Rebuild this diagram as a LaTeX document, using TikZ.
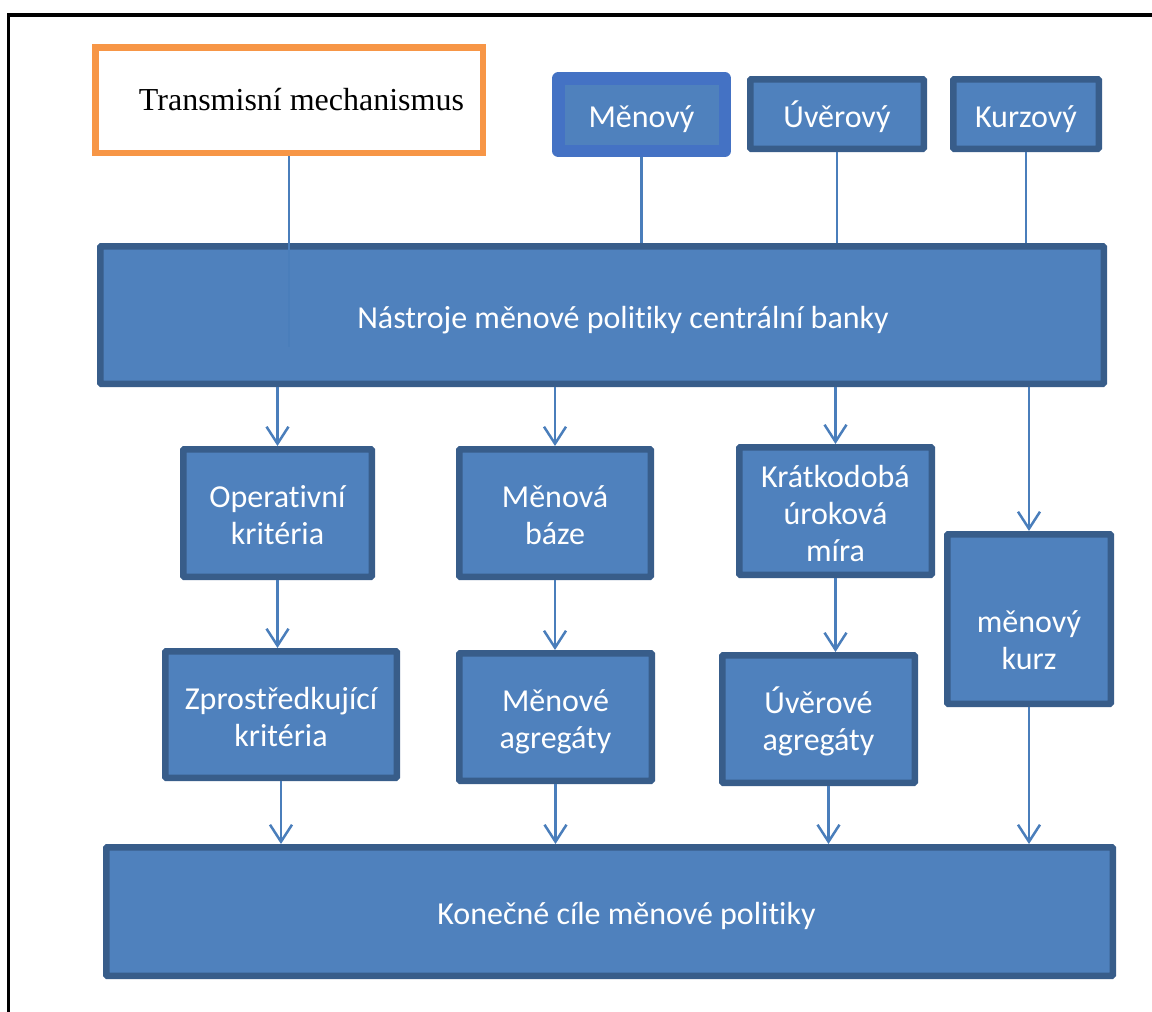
\documentclass[tikz,border=0pt]{standalone}
\usepackage{fontspec}
\setmainfont{Liberation Serif}
\newfontfamily\calib[Ligatures=NoCommon]{Carlito}
\usetikzlibrary{arrows.meta}
\definecolor{boxfill}{HTML}{4F81BD}
\definecolor{boxline}{HTML}{385D8A}
\definecolor{menline}{HTML}{4472C4}
\definecolor{orng}{HTML}{F79646}
\definecolor{conn}{HTML}{4A7EBB}
\newcommand\topstrut{\rule{0pt}{34pt}}
\newcommand\botstrut{\rule[-8pt]{0pt}{8pt}}
\begin{document}
\begin{tikzpicture}[x=1pt,y=1pt,
  calibtext/.style={text=white, font=\calib\fontsize{32}{37}\selectfont, align=center, inner sep=0pt},
  bluebox/.style={draw=boxline, fill=boxfill, line width=6.5pt, rounded corners=1pt, calibtext},
  menbox/.style={draw=menline, fill=boxfill, line width=12.5pt, line join=round, calibtext},
  orbox/.style={draw=orng, fill=white, line width=6.5pt, text=black,
    font=\fontsize{32}{37}\selectfont, inner sep=0pt},
  link/.style={draw=conn, line width=2.5pt},
  arr/.style={link, -{Straight Barb[length=17pt,width=22pt]}}]
\useasboundingbox (0,0) rectangle (1152,-1012);
\fill[white] (0,0) rectangle (1152,-1012);
% frame
\draw[line width=3.5pt, line join=miter] (8.5,-1015) -- (8.5,-15) -- (1155,-15);

% top row
\node[orbox, minimum width=387.5, minimum height=105.5] (tm) at (289,-100) {\hspace*{25pt}Transmisní mechanismus};
\node[menbox, minimum width=166.5, minimum height=72.5] (men) at (641.5,-114.5) {\topstrut Měnový\botstrut};
\node[bluebox, minimum width=173.5, minimum height=69.5] (uv) at (837,-114) {\topstrut Úvěrový\botstrut};
\node[bluebox, minimum width=145.5, minimum height=69.5] (ku) at (1026,-114) {\topstrut Kurzový\botstrut};

% main box
\node[bluebox, minimum width=1003.5, minimum height=137.5] (nas) at (602,-315) {\topstrut\hspace*{42pt}Nástroje měnové politiky centrální banky\botstrut};

% second row
\node[bluebox, minimum width=188.5, minimum height=127.5] (op) at (277.5,-513) {\topstrut Operativní\\kritéria\botstrut};
\node[bluebox, minimum width=191.5, minimum height=127.5] (mb) at (555,-513) {\topstrut Měnová\\báze\botstrut};
\node[bluebox, minimum width=192.5, minimum height=127.5] (kr) at (835.5,-511) {\topstrut Krátkodobá\\úroková\\míra\botstrut};
\node[bluebox, minimum width=163.5, minimum height=169.5] (mk) at (1029,-619) {\rule{0pt}{71pt}měnový\\kurz\botstrut};

% third row
\node[bluebox, minimum width=231.5, minimum height=126.5] (zp) at (281,-714.5) {\topstrut Zprostředkující\\kritéria\botstrut};
\node[bluebox, minimum width=192.5, minimum height=127.5] (ma) at (555.5,-717) {\topstrut Měnové\\agregáty\botstrut};
\node[bluebox, minimum width=192.5, minimum height=127.5] (ua) at (818.5,-719) {\topstrut Úvěrové\\agregáty\botstrut};

% bottom box
\node[bluebox, minimum width=1006.5, minimum height=128.5] (kon) at (609.5,-911.5) {\topstrut\hspace*{34pt}Konečné cíle měnové politiky\botstrut};

% connectors from the top row
\coordinate (tmend) at (289,-347);
\draw[link] (tm.south) -- (tmend);
\draw[link] (men.south) -- (men.south |- nas.north);
\draw[link] (uv.south) -- (uv.south |- nas.north);
\draw[link] (ku.south) -- (ku.south |- nas.north);

% arrows from main box
\draw[arr] (nas.south -| op.north) -- (op.north);
\draw[arr] (nas.south -| mb.north) -- (mb.north);
\draw[arr] (nas.south -| kr.north) -- (kr.north);
\draw[arr] (nas.south -| mk.north) -- (mk.north);

% row 2 to row 3
\draw[arr] (op.south) -- (op.south |- zp.north);
\draw[arr] (mb.south) -- (mb.south |- ma.north);
\draw[arr] (kr.south) -- (kr.south |- ua.north);

% to bottom box
\draw[arr] (zp.south) -- (zp.south |- kon.north);
\draw[arr] (ma.south) -- (ma.south |- kon.north);
\draw[arr] ([xshift=10pt]ua.south) -- ([xshift=10pt]ua.south |- kon.north);
\draw[arr] (mk.south) -- (mk.south |- kon.north);
\end{tikzpicture}
\end{document}
